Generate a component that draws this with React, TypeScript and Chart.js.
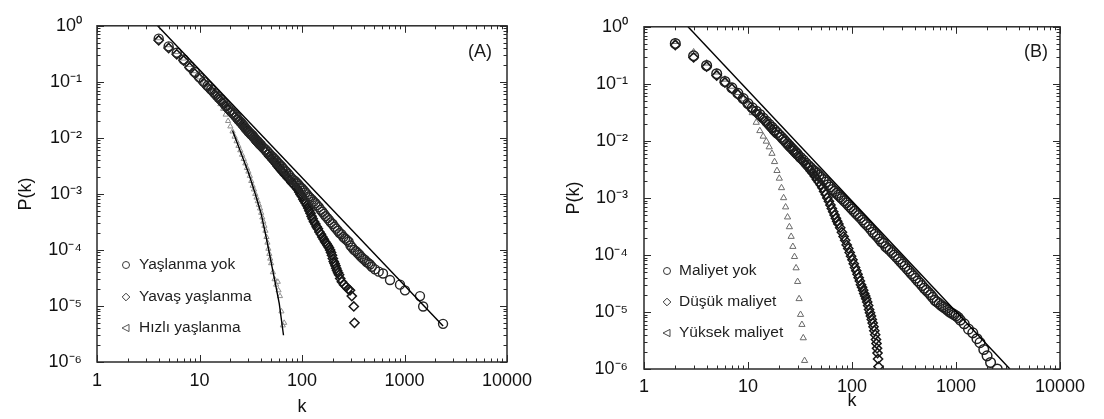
import React, { useEffect, useRef } from "react";
import { Chart, registerables } from "chart.js";

Chart.register(...registerables);

const FONT = '"Liberation Sans", Arial, Helvetica, sans-serif';

// ---------- axis ticks ----------
const xMajorTicks = [1, 10, 100, 1000, 10000];
const xTickLabels = ["1", "10", "100", "1000", "10000"];
const yMajorTicks = [1e-6, 1e-5, 1e-4, 1e-3, 1e-2, 1e-1, 1];
const yTickLabels = ["10⁻⁶", "10⁻⁵", "10⁻⁴", "10⁻³", "10⁻²", "10⁻¹", "10⁰"];
const minorSteps = [2, 3, 4, 5, 6, 7, 8, 9];

// ---------- panel A : [k, P(k)] ----------
const aLabels = ["Yaşlanma yok", "Yavaş yaşlanma", "Hızlı yaşlanma"];

const aLine: [number, number][] = [[3.9, 1], [2380, 4.4e-6]];

const aFit: [number, number][] = [
  [21, 0.0135], [25, 0.0058], [30, 0.0024], [35, 0.001], [40, 0.00044],
  [45, 0.00016], [50, 0.00006], [55, 0.000025], [60, 0.000011], [66, 0.000003],
];

const aNone: [number, number][] = [
  [4, 0.59], [5, 0.43], [6, 0.33], [7, 0.25], [8, 0.19], [9, 0.15], [10, 0.12], [11, 0.1],
  [12, 0.085], [13, 0.073], [14, 0.063], [15, 0.055], [16, 0.049], [17, 0.043], [18, 0.038],
  [19, 0.034], [20, 0.031], [21, 0.028], [22, 0.026], [23, 0.0235], [24, 0.021], [25, 0.0195],
  [26, 0.018], [27, 0.0165], [28, 0.015], [29, 0.014], [30, 0.013], [31, 0.0122], [32, 0.0115],
  [33, 0.011], [34, 0.0102], [35, 0.0096], [36, 0.009], [37, 0.0086], [38, 0.0081], [39, 0.0077],
  [40, 0.0074], [42, 0.0067], [44, 0.0062], [46, 0.0057], [48, 0.0052], [50, 0.0048], [52, 0.0045],
  [54, 0.0042], [56, 0.0039], [58, 0.0036], [60, 0.0034], [62, 0.0032], [64, 0.003], [66, 0.0028],
  [68, 0.0026], [70, 0.0025], [73, 0.0023], [76, 0.0021], [79, 0.0019], [82, 0.0018], [85, 0.0017],
  [88, 0.0016], [91, 0.0015], [94, 0.0014], [97, 0.0013], [100, 0.00125], [104, 0.00115],
  [108, 0.00106], [112, 0.00098], [116, 0.0009], [120, 0.00085], [125, 0.00079], [130, 0.00073],
  [135, 0.00068], [140, 0.00063], [146, 0.00058], [152, 0.00052], [158, 0.00048], [164, 0.00044],
  [170, 0.0004], [177, 0.00037], [184, 0.00034], [191, 0.00031], [199, 0.00029], [207, 0.00026],
  [215, 0.00024], [224, 0.00022], [233, 0.0002], [243, 0.00019], [253, 0.00017], [263, 0.00016],
  [274, 0.00015], [285, 0.00014], [297, 0.00012], [309, 0.00011], [322, 0.0001], [335, 0.000095],
  [349, 0.000088], [363, 0.000082], [378, 0.000075], [394, 0.00007], [410, 0.000066],
  [427, 0.000061], [444, 0.000058], [460, 0.000055], [480, 0.00005], [515, 0.000045],
  [560, 0.000041], [617, 0.000038], [722, 0.000029], [904, 0.000024], [1011, 0.000019],
  [1416, 0.000015], [1520, 0.0000098], [2377, 0.0000048],
];

const aSlow: [number, number][] = [
  [4, 0.55], [5, 0.4], [6, 0.31], [7, 0.24], [8, 0.18], [9, 0.14], [10, 0.115], [11, 0.095],
  [12, 0.08], [13, 0.069], [14, 0.06], [15, 0.052], [16, 0.046], [17, 0.041], [18, 0.036],
  [19, 0.032], [20, 0.029], [21, 0.0265], [22, 0.024], [23, 0.022], [24, 0.02], [25, 0.0185],
  [26, 0.017], [27, 0.0157], [28, 0.0145], [29, 0.0135], [30, 0.0125], [31, 0.0117], [32, 0.011],
  [33, 0.0104], [34, 0.0097], [35, 0.0091], [36, 0.0085], [37, 0.008], [38, 0.0076], [39, 0.0072],
  [40, 0.0069], [42, 0.0063], [44, 0.0057], [46, 0.0052], [48, 0.0047], [50, 0.0044], [52, 0.004],
  [54, 0.0037], [56, 0.0034], [58, 0.0031], [60, 0.0029], [62, 0.0027], [64, 0.0025], [66, 0.0024],
  [68, 0.0022], [70, 0.0021], [73, 0.0019], [76, 0.0018], [79, 0.0016], [82, 0.0015], [85, 0.0014],
  [88, 0.0013], [91, 0.0012], [94, 0.00108], [97, 0.00098], [100, 0.0009], [103, 0.0008],
  [106, 0.00074], [109, 0.00068], [112, 0.00062], [115, 0.00056], [118, 0.0005], [121, 0.00045],
  [124, 0.0004], [127, 0.00036], [131, 0.00032], [135, 0.00029], [139, 0.00026], [143, 0.00024],
  [148, 0.00021], [153, 0.00019], [158, 0.00017], [163, 0.000155], [168, 0.00014], [173, 0.00013],
  [178, 0.00012], [183, 0.00011], [188, 0.0001], [192, 0.00009], [196, 0.00008], [200, 0.00007],
  [204, 0.000062], [208, 0.000057], [212, 0.000052], [216, 0.000047], [220, 0.000043],
  [225, 0.000039], [230, 0.000036], [236, 0.000031], [245, 0.000027], [257, 0.000024],
  [270, 0.000022], [282, 0.00002], [294, 0.000019], [306, 0.000015], [320, 0.0000098],
  [325, 0.000005],
];

const aFast: [number, number][] = [
  [4, 0.6], [5, 0.45], [6, 0.34], [7, 0.26], [8, 0.2], [9, 0.155], [10, 0.12], [11, 0.097],
  [12, 0.08], [13, 0.066], [14, 0.056], [15, 0.048], [16, 0.04], [17, 0.033], [18, 0.026],
  [19, 0.02], [20, 0.016], [21, 0.013], [22, 0.0105], [23, 0.0087], [24, 0.0072], [25, 0.006],
  [26, 0.005], [27, 0.0042], [28, 0.0035], [29, 0.0029], [30, 0.0025], [31, 0.0021], [32, 0.0017],
  [33, 0.0014], [34, 0.0012], [35, 0.001], [36, 0.00086], [37, 0.00074], [38, 0.00064],
  [39, 0.00055], [40, 0.00046], [41, 0.00038], [42, 0.00032], [43, 0.00027], [44, 0.00022],
  [45, 0.00017], [46, 0.000135], [47, 0.000105], [48, 0.000085], [49, 0.00007], [50, 0.000058],
  [52, 0.00004], [54, 0.00003], [56, 0.000024], [58, 0.000027], [59, 0.000019], [61, 0.000015],
  [63, 0.000008], [65, 0.0000045], [67, 0.000005],
];

// ---------- panel B : [k, P(k)] ----------
const bLabels = ["Maliyet yok", "Düşük maliyet", "Yüksek maliyet"];

const bLine: [number, number][] = [[2.65, 1], [3300, 1e-6]];

const bNone: [number, number][] = [
  [2, 0.51], [3, 0.31], [4, 0.21], [5, 0.15], [6, 0.11], [7, 0.085], [8, 0.068], [9, 0.055],
  [10, 0.045], [11, 0.038], [12, 0.033], [13, 0.029], [14, 0.025], [15, 0.022], [16, 0.0195],
  [17, 0.0173], [18, 0.0155], [19, 0.014], [20, 0.0127], [21, 0.0116], [22, 0.0106], [23, 0.0097],
  [24, 0.0089], [25, 0.0082], [26, 0.0076], [27, 0.0071], [28, 0.0066], [29, 0.0062], [30, 0.0058],
  [32, 0.0051], [34, 0.0046], [36, 0.0041], [38, 0.0037], [40, 0.0034], [42, 0.0031], [44, 0.0029],
  [46, 0.0027], [48, 0.0025], [50, 0.0023], [53, 0.0021], [56, 0.0019], [59, 0.0017],
  [62, 0.00155], [65, 0.0014], [68, 0.0013], [71, 0.0012], [74, 0.00112], [77, 0.00104],
  [80, 0.00097], [84, 0.00089], [88, 0.00082], [92, 0.00075], [96, 0.00069], [100, 0.00064],
  [105, 0.00058], [110, 0.00053], [115, 0.00049], [120, 0.00045], [126, 0.00041], [132, 0.00037],
  [138, 0.00034], [145, 0.00031], [152, 0.00028], [159, 0.00025], [167, 0.00023], [175, 0.00021],
  [183, 0.00019], [192, 0.00017], [201, 0.00016], [211, 0.00014], [221, 0.00013], [232, 0.00012],
  [243, 0.00011], [255, 0.0001], [267, 0.000092], [280, 0.000084], [294, 0.000076],
  [308, 0.000069], [323, 0.000063], [339, 0.000057], [355, 0.000052], [372, 0.000047],
  [390, 0.000043], [409, 0.000039], [429, 0.000035], [450, 0.000032], [472, 0.000029],
  [495, 0.000026], [519, 0.000024], [544, 0.000022], [570, 0.00002], [598, 0.000018],
  [627, 0.000016], [657, 0.000015], [689, 0.000014], [722, 0.000013], [757, 0.0000122],
  [794, 0.0000115], [832, 0.0000107], [872, 0.00001], [914, 0.0000095], [958, 0.000009],
  [1000, 0.0000086], [1050, 0.000008], [1100, 0.0000072], [1200, 0.0000062], [1320, 0.000005],
  [1450, 0.0000043], [1590, 0.0000034], [1700, 0.0000029], [1850, 0.0000022], [1990, 0.0000017],
  [2150, 0.0000013], [2490, 0.000001],
];

const bLow: [number, number][] = [
  [2, 0.48], [3, 0.29], [4, 0.2], [5, 0.14], [6, 0.105], [7, 0.082], [8, 0.065], [9, 0.053],
  [10, 0.043], [11, 0.036], [12, 0.031], [13, 0.027], [14, 0.024], [15, 0.021], [16, 0.018],
  [17, 0.016], [18, 0.014], [20, 0.012], [22, 0.01], [24, 0.0085], [26, 0.0072], [28, 0.0062],
  [30, 0.0054], [32, 0.0048], [34, 0.0043], [36, 0.0038], [38, 0.0034], [40, 0.003], [42, 0.0027],
  [44, 0.0024], [46, 0.0021], [48, 0.0019], [50, 0.0017], [52, 0.0015], [54, 0.0013],
  [56, 0.00115], [58, 0.001], [60, 0.00087], [62, 0.00075], [64, 0.00065], [66, 0.00057],
  [68, 0.0005], [70, 0.00044], [72, 0.00039], [74, 0.00035], [77, 0.0003], [80, 0.00025],
  [83, 0.00021], [86, 0.00018], [89, 0.00015], [92, 0.00013], [95, 0.00011], [98, 0.000095],
  [101, 0.000082], [104, 0.00007], [107, 0.00006], [110, 0.000053], [113, 0.000046],
  [116, 0.00004], [119, 0.000035], [122, 0.00003], [125, 0.000027], [128, 0.000024],
  [131, 0.000021], [134, 0.000019], [137, 0.000017], [140, 0.000015], [143, 0.000013],
  [146, 0.000011], [149, 0.0000097], [152, 0.0000085], [155, 0.0000074], [158, 0.0000064],
  [161, 0.0000055], [164, 0.0000047], [167, 0.000004], [170, 0.0000033], [172, 0.0000028],
  [174, 0.0000023], [176, 0.0000019], [178, 0.0000015], [180, 0.0000011],
];

const bHigh: [number, number][] = [
  [2, 0.55], [3, 0.36], [4, 0.23], [5, 0.16], [6, 0.12], [7, 0.09], [8, 0.07], [9, 0.054],
  [10, 0.042], [11, 0.031], [12, 0.021], [13, 0.015], [14, 0.012], [15, 0.0098], [16, 0.0078],
  [17, 0.006], [18, 0.0043], [19, 0.003], [20, 0.0022], [21, 0.0015], [22, 0.001], [23, 0.00069],
  [24, 0.00046], [25, 0.00031], [26, 0.00021], [27, 0.00014], [28, 0.000093], [29, 0.000059],
  [30, 0.000034], [31, 0.000017], [32, 0.000009], [33, 0.000006], [34, 0.0000035],
  [35, 0.0000014],
];

// ---------- helpers ----------
function toPoints(pairs: [number, number][]) {
  return pairs.map(([x, y]) => ({ x, y }));
}

function withMinor(majors: number[]) {
  const out: number[] = [];
  majors.forEach((m, i) => {
    out.push(m);
    if (i < majors.length - 1) minorSteps.forEach((s) => out.push(m * s));
  });
  return out;
}

function isMajor(v: number) {
  const l = Math.log10(v);
  return Math.abs(l - Math.round(l)) < 1e-6;
}

function labelFor(v: number, majors: number[], labels: string[]) {
  for (let i = 0; i < majors.length; i++) {
    if (Math.abs(Math.log10(v) - Math.log10(majors[i])) < 1e-6) return labels[i];
  }
  return "";
}

const xTickValues = withMinor(xMajorTicks);
const yTickValues = withMinor(yMajorTicks);

const W = 552;
const H = 419;

const framePlugin = {
  id: "frame",
  afterDatasetsDraw(chart: any, _args: any, opts: any) {
    const { ctx, chartArea: a, scales } = chart;
    const xs = scales.x;
    const ys = scales.y;
    ctx.save();
    ctx.strokeStyle = "#2a2a2a";
    ctx.lineWidth = 1;
    ctx.beginPath();
    for (const t of xs.ticks) {
      const px = Math.round(xs.getPixelForValue(t.value)) + 0.5;
      const len = isMajor(t.value) ? 7 : 3.5;
      ctx.moveTo(px, a.bottom);
      ctx.lineTo(px, a.bottom - len);
      ctx.moveTo(px, a.top);
      ctx.lineTo(px, a.top + len);
    }
    for (const t of ys.ticks) {
      const py = Math.round(ys.getPixelForValue(t.value)) + 0.5;
      const len = isMajor(t.value) ? 7 : 3.5;
      ctx.moveTo(a.left, py);
      ctx.lineTo(a.left + len, py);
      ctx.moveTo(a.right, py);
      ctx.lineTo(a.right - len, py);
    }
    ctx.stroke();
    ctx.lineWidth = 1.5;
    ctx.strokeRect(a.left, a.top, a.right - a.left, a.bottom - a.top);

    // panel tag
    ctx.fillStyle = "#1a1a1a";
    ctx.font = `18px ${FONT}`;
    ctx.textAlign = "right";
    ctx.textBaseline = "middle";
    ctx.fillText(opts.tag, a.right - opts.tagDx, a.top + opts.tagDy);

    // legend
    const items = chart.data.datasets.filter((d: any) => d.label);
    items.forEach((d: any, i: number) => {
      const y = a.bottom - opts.rows[i];
      const x = a.left + opts.markerDx;
      ctx.strokeStyle = d.legendColor || d.borderColor;
      ctx.lineWidth = 1;
      ctx.beginPath();
      if (d.pointStyle === "circle") {
        ctx.arc(x, y, 3.5, 0, Math.PI * 2);
      } else if (d.pointStyle === "rectRot") {
        ctx.moveTo(x, y - 3.8);
        ctx.lineTo(x + 3.8, y);
        ctx.lineTo(x, y + 3.8);
        ctx.lineTo(x - 3.8, y);
        ctx.closePath();
      } else {
        ctx.moveTo(x - 4, y);
        ctx.lineTo(x + 3, y - 3.6);
        ctx.lineTo(x + 3, y + 3.6);
        ctx.closePath();
      }
      ctx.stroke();
      ctx.fillStyle = "#1e1e1e";
      ctx.font = `15.5px ${FONT}`;
      ctx.textAlign = "left";
      ctx.textBaseline = "middle";
      ctx.fillText(d.label, a.left + opts.textDx, y);
    });
    ctx.restore();
  },
};

type PanelCfg = {
  left: number;
  top: number;
  right: number;
  bottom: number;
  xTickPad: number;
  yTickPad: number;
  xTitlePad: number;
  yTitlePad: number;
  frame: any;
  datasets: any[];
};

function lineDs(pairs: [number, number][]) {
  return {
    label: "",
    data: toPoints(pairs),
    showLine: true,
    borderColor: "#000",
    borderWidth: 1.4,
    pointRadius: 0,
    tension: 0,
    fill: false,
  };
}

function pointDs(label: string, pairs: [number, number][], style: string, color: string, r: number, bw: number, legendColor?: string) {
  return {
    label,
    data: toPoints(pairs),
    showLine: false,
    pointStyle: style,
    pointRadius: r,
    pointBorderWidth: bw,
    borderColor: color,
    pointBorderColor: color,
    pointBackgroundColor: "rgba(0,0,0,0)",
    backgroundColor: "rgba(0,0,0,0)",
    legendColor,
  };
}

const panelA: PanelCfg = {
  left: 97,
  top: 17,
  right: 507,
  bottom: 362,
  xTickPad: 8,
  yTickPad: 15,
  xTitlePad: 1,
  yTitlePad: 15,
  frame: { tag: "(A)", tagDx: 15, tagDy: 26, markerDx: 29, textDx: 42, rows: [97, 65, 34] },
  datasets: [
    lineDs(aLine),
    lineDs(aFit),
    pointDs(aLabels[0], aNone, "circle", "#262626", 4.5, 1.4, "#383838"),
    pointDs(aLabels[1], aSlow, "rectRot", "#161616", 4.6, 1.5, "#383838"),
    pointDs(aLabels[2], aFast, "triangle", "#8f8f8f", 3, 1, "#555"),
  ],
};

const panelB: PanelCfg = {
  left: 92,
  top: 18,
  right: 508,
  bottom: 369,
  xTickPad: 7,
  yTickPad: 16,
  xTitlePad: 7,
  yTitlePad: 11,
  frame: { tag: "(B)", tagDx: 12, tagDy: 25, markerDx: 23, textDx: 35, rows: [98, 67, 36] },
  datasets: [
    lineDs(bLine),
    pointDs(bLabels[0], bNone, "circle", "#1e1e1e", 4.8, 1.5, "#333"),
    pointDs(bLabels[1], bLow, "rectRot", "#161616", 4.6, 1.5, "#333"),
    pointDs(bLabels[2], bHigh, "triangle", "#6a6a6a", 3.6, 1, "#444"),
  ],
};

function buildConfig(p: PanelCfg): any {
  const font = { family: FONT, size: 18 };
  return {
    type: "scatter",
    data: { datasets: p.datasets },
    options: {
      responsive: false,
      animation: false,
      events: [],
      layout: { padding: { top: p.top, right: W - p.right, left: 0, bottom: 0 } },
      plugins: {
        legend: { display: false },
        tooltip: { enabled: false },
        frame: p.frame,
      },
      scales: {
        x: {
          type: "logarithmic",
          position: "bottom",
          min: 1,
          max: 10000,
          afterBuildTicks: (s: any) => {
            s.ticks = xTickValues.map((v) => ({ value: v }));
          },
          afterFit: (s: any) => {
            s.height = H - p.bottom;
          },
          grid: { display: false, drawTicks: false },
          border: { display: false },
          ticks: {
            autoSkip: false,
            maxRotation: 0,
            minRotation: 0,
            padding: p.xTickPad,
            color: "#111",
            font,
            callback: (v: any) => labelFor(Number(v), xMajorTicks, xTickLabels),
          },
          title: {
            display: true,
            text: "k",
            color: "#111",
            font,
            padding: { top: 0, bottom: p.xTitlePad },
          },
        },
        y: {
          type: "logarithmic",
          position: "left",
          min: 1e-6,
          max: 1,
          afterBuildTicks: (s: any) => {
            s.ticks = yTickValues.map((v) => ({ value: v }));
          },
          afterFit: (s: any) => {
            s.width = p.left;
          },
          grid: { display: false, drawTicks: false },
          border: { display: false },
          ticks: {
            autoSkip: false,
            padding: p.yTickPad,
            color: "#111",
            font,
            callback: (v: any) => labelFor(Number(v), yMajorTicks, yTickLabels),
          },
          title: {
            display: true,
            text: "P(k)",
            color: "#111",
            font,
            padding: { top: p.yTitlePad, bottom: 0 },
          },
        },
      },
    },
    plugins: [framePlugin],
  };
}

function Panel({ cfg, left }: { cfg: PanelCfg; left: number }) {
  const ref = useRef<HTMLCanvasElement>(null);
  useEffect(() => {
    const chart = new Chart(ref.current as HTMLCanvasElement, buildConfig(cfg));
    return () => chart.destroy();
  }, [cfg]);
  return (
    <canvas
      ref={ref}
      width={W}
      height={H}
      style={{ position: "absolute", left, top: 0, width: W, height: H }}
    />
  );
}

export default function App() {
  return (
    <div
      style={{
        position: "fixed",
        left: 0,
        top: 0,
        width: 1104,
        height: 419,
        background: "#fff",
        overflow: "hidden",
      }}
    >
      <Panel cfg={panelA} left={0} />
      <Panel cfg={panelB} left={552} />
    </div>
  );
}
